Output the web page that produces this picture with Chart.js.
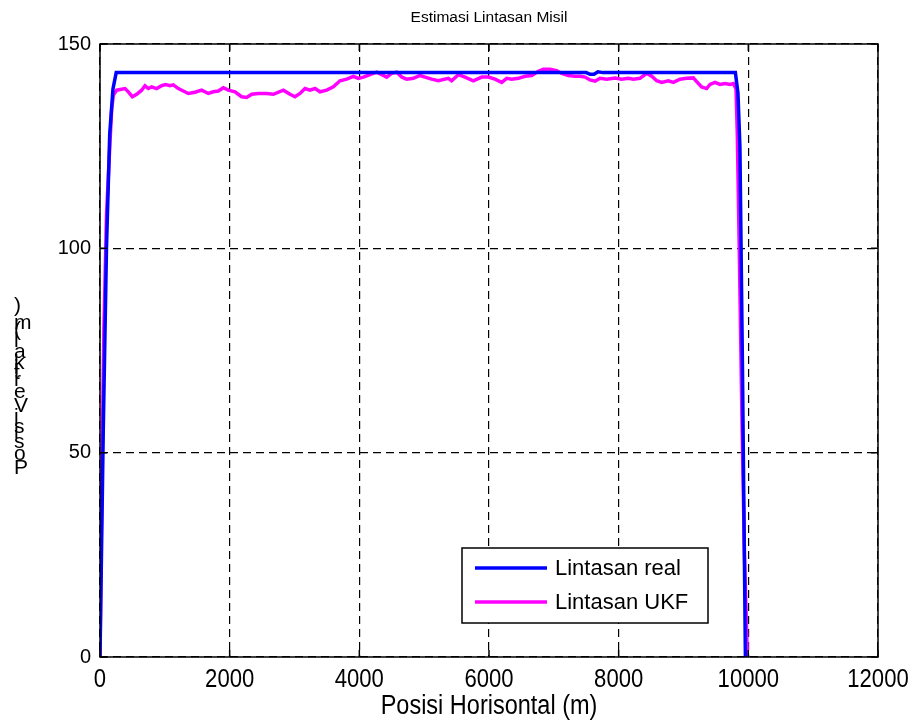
<!DOCTYPE html>
<html>
<head>
<meta charset="utf-8">
<script src="https://cdn.jsdelivr.net/npm/chart.js@4"></script>
<style>
  body { margin: 0; background: #fff; }
  canvas { display: block; }
</style>
</head>
<body>
<canvas id="c" width="912" height="721"></canvas>
<script>
const titleText = "Estimasi Lintasan Misil";
const xLabel = "Posisi Horisontal (m)";
const yLabel = "Posisi Vertikal (m)";
const seriesNames = ["Lintasan real", "Lintasan UKF"];

const xTicks = [0, 2000, 4000, 6000, 8000, 10000, 12000];
const yTicks = [0, 50, 100, 150];

// lintasan real
const realX = [0, 50, 100, 150, 200, 250, 7500, 7560, 7620, 7680, 7760, 9800, 9840, 9870, 9910, 9955];
const realY = [0, 55, 100, 128, 139, 143, 143, 142.6, 142.6, 143.2, 143, 143, 138, 125, 70, 0];

// lintasan UKF (estimasi)
const ukfX = [0, 30, 60, 100, 154, 180, 206, 257, 386, 437, 499, 566, 642, 694, 745, 797, 873, 951,
  1013, 1080, 1131, 1208, 1285, 1362, 1465, 1568, 1671, 1748, 1825, 1902, 1980, 2082, 2185, 2263,
  2340, 2442, 2571, 2674, 2828, 2931, 3008, 3085, 3162, 3239, 3316, 3394, 3497, 3599, 3702, 3805,
  3908, 3985, 4062, 4165, 4268, 4370, 4422, 4499, 4576, 4653, 4730, 4834, 4936, 5013, 5116, 5218,
  5372, 5424, 5527, 5630, 5758, 5888, 5990, 6093, 6196, 6273, 6350, 6453, 6556, 6659, 6761, 6838,
  6941, 7044, 7122, 7224, 7327, 7404, 7481, 7558, 7636, 7713, 7816, 7944, 8047, 8149, 8226, 8329,
  8432, 8510, 8587, 8664, 8766, 8843, 8946, 9049, 9152, 9203, 9280, 9357, 9409, 9486, 9563, 9641,
  9718, 9769, 9810, 9830, 9860, 9900, 9940, 9985];
const ukfY = [0, 45, 80, 108, 126, 134, 137.5, 138.7, 139.1, 138.3, 137.1, 137.7, 138.7, 139.8, 139.1, 139.5, 139.1, 139.8,
  140.1, 139.8, 140, 139.1, 138.5, 137.9, 138.2, 138.7, 137.9, 138.3, 138.5, 139.3, 138.7, 138.3, 137.1, 136.9,
  137.7, 137.9, 137.9, 137.7, 138.7, 137.7, 137.1, 137.9, 139.1, 138.7, 139.1, 138.3, 138.7, 139.5, 141, 141.4,
  142.1, 141.6, 141.9, 142.5, 143.1, 142.3, 141.9, 142.8, 143.1, 141.9, 141.4, 141.6, 142.3, 141.9, 141.4, 141,
  141.6, 141, 142.5, 141.9, 141, 141.9, 141.9, 141.4, 140.6, 141.6, 141.4, 141.6, 142.1, 142.3, 143.3, 143.8,
  143.8, 143.5, 142.8, 142.3, 142.1, 142.1, 141.9, 141.2, 140.9, 141.6, 141.4, 141.7, 141.4, 141.6, 141.4, 141.6,
  142.8, 142.1, 141, 140.6, 141, 140.6, 141.4, 141.6, 141.7, 140.8, 139.5, 139.1, 140.1, 140.6, 140.1, 140.3,
  140.1, 140.3, 139.1, 128, 100, 60, 25, 0];

const toPts = (xs, ys) => xs.map((x, i) => ({ x: x, y: ys[i] }));

const FONT = "'Liberation Sans', Arial, sans-serif";

// teks sempit (mirip Arial Narrow) untuk sumbu x
function narrowText(ctx, txt, x, y, size, sx) {
  ctx.save();
  ctx.font = size + 'px ' + FONT;
  ctx.translate(x, y);
  ctx.scale(sx, 1);
  ctx.fillText(txt, 0, 0);
  ctx.restore();
}

// kotak, tick ke dalam, judul, label sumbu, legenda
const decor = {
  id: 'decor',
  afterDraw(chart) {
    const ctx = chart.ctx;
    const a = chart.chartArea;
    const xs = chart.scales.x, ys = chart.scales.y;
    ctx.save();
    ctx.strokeStyle = '#000';
    ctx.lineWidth = 1.5;
    ctx.strokeRect(a.left, a.top, a.right - a.left, a.bottom - a.top);
    ctx.beginPath();
    xTicks.forEach(v => {
      const p = xs.getPixelForValue(v);
      ctx.moveTo(p, a.bottom); ctx.lineTo(p, a.bottom - 7);
      ctx.moveTo(p, a.top); ctx.lineTo(p, a.top + 7);
    });
    yTicks.forEach(v => {
      const p = ys.getPixelForValue(v);
      ctx.moveTo(a.left, p); ctx.lineTo(a.left + 7, p);
      ctx.moveTo(a.right, p); ctx.lineTo(a.right - 7, p);
    });
    ctx.stroke();

    ctx.fillStyle = '#000';
    ctx.textAlign = 'center';

    // label tick x dan judul sumbu x
    ctx.textBaseline = 'top';
    xTicks.forEach(v => narrowText(ctx, String(v), xs.getPixelForValue(v), a.bottom + 10, 26, 0.85));
    ctx.textBaseline = 'bottom';
    narrowText(ctx, xLabel, (a.left + a.right) / 2, 720, 27, 0.87);

    // judul
    ctx.font = '15.5px ' + FONT;
    ctx.textBaseline = 'middle';
    ctx.fillText(titleText, (a.left + a.right) / 2, 18);

    // label y: huruf tegak, ditumpuk ke atas
    ctx.font = '21px ' + FONT;
    ctx.textAlign = 'left';
    ctx.textBaseline = 'alphabetic';
    let by = 474;
    for (const ch of yLabel) {
      ctx.fillText(ch, 14, by);
      by -= ctx.measureText(ch).width;
    }

    // legenda
    const lx = 462, ly = 548, lw = 246, lh = 75;
    ctx.fillStyle = '#fff';
    ctx.fillRect(lx, ly, lw, lh);
    ctx.lineWidth = 1.5;
    ctx.strokeStyle = '#000';
    ctx.strokeRect(lx, ly, lw, lh);
    ctx.font = '22px ' + FONT;
    ctx.textBaseline = 'middle';
    chart.data.datasets.forEach((ds, i) => {
      const yy = ly + 20 + i * 34;
      ctx.strokeStyle = ds.borderColor;
      ctx.lineWidth = 3.5;
      ctx.beginPath();
      ctx.moveTo(lx + 13, yy); ctx.lineTo(lx + 85, yy);
      ctx.stroke();
      ctx.fillStyle = '#000';
      ctx.fillText(ds.label, lx + 93, yy + 1);
    });
    ctx.restore();
  }
};

new Chart(document.getElementById('c'), {
  type: 'scatter',
  data: {
    datasets: [
      { label: seriesNames[0], data: toPts(realX, realY), borderColor: '#0000ff', borderWidth: 3.5,
        showLine: true, pointRadius: 0, tension: 0, fill: false },
      { label: seriesNames[1], data: toPts(ukfX, ukfY), borderColor: '#ff00ff', borderWidth: 3.5,
        showLine: true, pointRadius: 0, tension: 0, fill: false }
    ]
  },
  options: {
    responsive: false,
    animation: false,
    layout: { padding: { top: 44, right: 34, left: 0, bottom: 0 } },
    plugins: { legend: { display: false }, tooltip: { enabled: false }, title: { display: false } },
    scales: {
      x: {
        type: 'linear', min: 0, max: 12000,
        afterBuildTicks: s => { s.ticks = xTicks.map(v => ({ value: v })); },
        afterFit: s => { s.height = 64; s.paddingLeft = 0; s.paddingRight = 0; },
        grid: { color: '#000', lineWidth: 1.2, drawTicks: false },
        border: { display: false, dash: [8, 5] },
        ticks: { display: false }
      },
      y: {
        type: 'linear', min: 0, max: 150,
        afterBuildTicks: s => { s.ticks = yTicks.map(v => ({ value: v })); },
        afterFit: s => { s.width = 100; s.paddingTop = 0; s.paddingBottom = 0; },
        grid: { color: '#000', lineWidth: 1.2, drawTicks: false },
        border: { display: false, dash: [8, 5] },
        ticks: { color: '#000', padding: 9, font: { family: FONT, size: 20 }, callback: v => String(v) }
      }
    }
  },
  plugins: [decor]
});
</script>
</body>
</html>
